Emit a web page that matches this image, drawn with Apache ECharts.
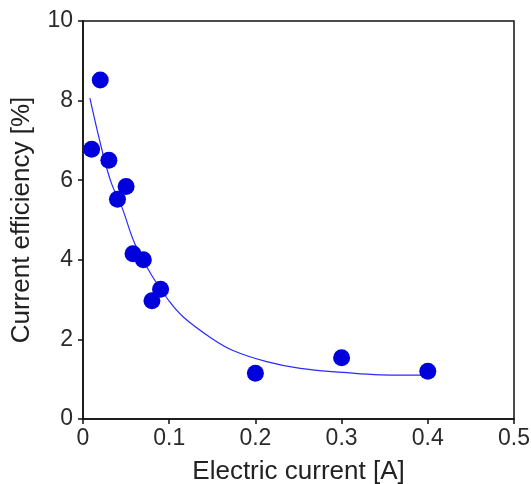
<!DOCTYPE html>
<html><head><meta charset="utf-8">
<script src="https://cdn.jsdelivr.net/npm/echarts@6/dist/echarts.min.js"></script>
<style>html,body{margin:0;padding:0;background:#fff}#c{width:531px;height:484px}</style>
</head><body><div id="c"></div>
<script>
const currentA = [0.01, 0.02, 0.03, 0.04, 0.05, 0.058, 0.07, 0.08, 0.09, 0.2, 0.3, 0.4];
const efficiency = [6.78, 8.52, 6.5, 5.52, 5.84, 4.15, 4.0, 2.97, 3.26, 1.15, 1.54, 1.2];
const fitX = [0.008, 0.022, 0.033, 0.045, 0.06, 0.08, 0.099, 0.116, 0.149, 0.174, 0.213, 0.252, 0.302, 0.345, 0.403];
const fitY = [8.06, 6.76, 5.92, 5.33, 4.41, 3.6, 2.99, 2.57, 2.03, 1.72, 1.44, 1.27, 1.17, 1.11, 1.1];
const xTicks = [0, 0.1, 0.2, 0.3, 0.4, 0.5];
const yTicks = [0, 2, 4, 6, 8, 10];

const font = 'Liberation Sans, Arial, sans-serif';
const chart = echarts.init(document.getElementById('c'), null, {renderer: 'canvas'});
chart.setOption({
  animation: false,
  grid: {left: 83, top: 21, right: 17, bottom: 65, containLabel: false, outerBoundsMode: 'none',
         show: true, borderColor: '#111', borderWidth: 1.5, backgroundColor: '#fff'},
  xAxis: {
    type: 'value', min: 0, max: 0.5, interval: 0.1,
    name: 'Electric current [A]', nameLocation: 'middle', nameGap: 40,
    nameTextStyle: {fontFamily: font, fontSize: 26, color: '#222'},
    axisLine: {lineStyle: {color: '#111', width: 1.5}},
    axisTick: {length: 5, lineStyle: {color: '#111', width: 1.5}},
    axisLabel: {fontFamily: font, fontSize: 23, color: '#2a2a2a', margin: 8,
      formatter: v => { const t = xTicks.find(k => Math.abs(k - v) < 1e-9); return t === undefined ? '' : String(t); }},
    splitLine: {show: false}
  },
  yAxis: {
    type: 'value', min: 0, max: 10, interval: 2,
    name: 'Current efficiency [%]', nameLocation: 'middle', nameGap: 48,
    nameTextStyle: {fontFamily: font, fontSize: 26, color: '#222'},
    axisLine: {lineStyle: {color: '#111', width: 1.5}},
    axisTick: {length: 5, lineStyle: {color: '#111', width: 1.5}},
    axisLabel: {fontFamily: font, fontSize: 23, color: '#2a2a2a', margin: 10,
      formatter: v => { const t = yTicks.find(k => Math.abs(k - v) < 1e-9); return t === undefined ? '' : String(t); }},
    splitLine: {show: false}
  },
  series: [
    {type: 'line', data: fitX.map((x, i) => [x, fitY[i]]), smooth: 0.4, showSymbol: false,
     lineStyle: {color: '#2a2aff', width: 1.2}, z: 2},
    {type: 'scatter', data: currentA.map((x, i) => [x, efficiency[i]]), symbolSize: 17,
     itemStyle: {color: '#0000dd', opacity: 1}, z: 3}
  ]
});
</script></body></html>
